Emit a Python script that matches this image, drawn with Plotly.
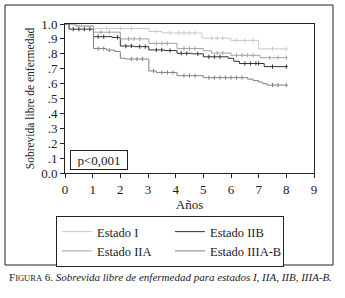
import numpy as np
import plotly.graph_objects as go

# ---- data ----
series_names = ["Estado I", "Estado IIB", "Estado IIA", "Estado IIIA-B"]

t_I = [0, 0.3, 1.03, 3.03, 3.5, 4.95, 6.0, 7.0, 8.05]
s_I = [1.0, 0.99, 0.97, 0.95, 0.94, 0.905, 0.89, 0.833, 0.833]
c_I = [0.6, 1.5, 2.0, 2.4, 3.3, 3.8, 4.1, 4.3, 4.5, 4.7, 5.3, 5.5, 5.7, 6.2, 6.5, 6.8, 7.5, 8.0]

t_IIA = [0, 0.4, 1.03, 2.0, 3.03, 4.05, 5.0, 5.3, 6.0, 7.05, 8.05]
s_IIA = [1.0, 0.985, 0.945, 0.90, 0.87, 0.835, 0.82, 0.805, 0.79, 0.774, 0.774]
c_IIA = [1.3, 1.6, 2.3, 2.5, 2.7, 3.3, 3.5, 3.7, 4.3, 4.5, 4.7, 5.5, 5.7, 6.2, 6.4, 6.6, 6.8, 7.4, 7.7, 8.0]

t_IIB = [0, 0.15, 1.03, 1.7, 2.0, 2.5, 3.03, 3.6, 4.05, 4.6, 5.0, 5.9, 6.1, 6.3, 7.2, 8.05]
s_IIB = [1.0, 0.965, 0.915, 0.91, 0.852, 0.848, 0.826, 0.822, 0.803, 0.80, 0.78, 0.77, 0.75, 0.735, 0.714, 0.714]
c_IIB = [0.3, 0.5, 0.7, 0.9, 1.2, 1.4, 1.9, 2.2, 2.4, 2.7, 2.9, 3.3, 3.5, 3.8, 4.2, 4.4, 4.8,
         5.2, 5.4, 5.6, 6.5, 6.7, 6.9, 7.0, 7.5, 8.0]

t_IIIAB = [0, 0.15, 1.03, 1.5, 1.8, 2.0, 2.2, 3.03, 3.3, 4.05, 5.0, 6.6, 6.8, 7.0, 7.15, 7.3, 8.05]
s_IIIAB = [1.0, 0.965, 0.835, 0.825, 0.815, 0.77, 0.765, 0.685, 0.675, 0.653, 0.64, 0.63, 0.62,
           0.61, 0.60, 0.59, 0.59]
c_IIIAB = [1.2, 1.4, 1.6, 2.4, 2.6, 2.8, 3.2, 3.5, 3.7, 3.9, 4.3, 4.5, 4.7, 5.2, 5.4, 5.6, 5.8,
           6.0, 6.2, 6.4, 7.5, 7.7, 8.0]

x_ticks = list(range(0, 10))
y_tick_vals = [0.0, 0.1, 0.2, 0.3, 0.4, 0.5, 0.6, 0.7, 0.8, 0.9, 1.0]
y_tick_text = ["0.0", ".1", ".2", ".3", ".4", ".5", ".6", ".7", ".8", ".9", "1.0"]

colors = {"Estado I": "#c8c8c8", "Estado IIA": "#a0a0a0", "Estado IIB": "#333333", "Estado IIIA-B": "#808080"}
data = {
    "Estado I": (t_I, s_I, c_I),
    "Estado IIA": (t_IIA, s_IIA, c_IIA),
    "Estado IIB": (t_IIB, s_IIB, c_IIB),
    "Estado IIIA-B": (t_IIIAB, s_IIIAB, c_IIIAB),
}

SERIF = "Liberation Serif"

fig = go.Figure()
for name in series_names:
    t, s, c = data[name]
    col = colors[name]
    fig.add_trace(go.Scatter(x=t, y=s, mode="lines", name=name, line=dict(color=col, width=1, shape="hv")))
for name in series_names:
    t, s, c = data[name]
    idx = np.searchsorted(np.array(t), np.array(c), side="right") - 1
    cy = np.array(s)[idx]
    fig.add_trace(go.Scatter(x=c, y=cy, mode="markers", showlegend=False,
                             marker=dict(symbol="line-ns", size=3, line=dict(color=colors[name], width=1))))

L, T, W, H = 65, 24, 249, 149


def px(xp):
    return (xp - L) / W


def py(yp):
    return (T + H - yp) / H


fig.update_layout(
    width=345, height=298,
    margin=dict(l=L, r=345 - L - W, t=T, b=298 - T - H),
    paper_bgcolor="white", plot_bgcolor="white",
    font=dict(family=SERIF, size=13, color="#222"),
    showlegend=True,
    legend=dict(orientation="h", x=px(56), y=py(216), xanchor="left", yanchor="top",
                bordercolor="#222", borderwidth=1, entrywidth=68, entrywidthmode="pixels",
                tracegroupgap=0, font=dict(family=SERIF, size=12.5, color="#222"), bgcolor="white"),
    xaxis=dict(range=[0, 9], tickvals=x_ticks, ticks="outside", ticklen=4, tickcolor="#222",
               showline=True, linecolor="#222", linewidth=1, mirror=True, showgrid=False, zeroline=False,
               title=dict(text="Años", font=dict(family=SERIF, size=13), standoff=0),
               tickfont=dict(family=SERIF, size=13)),
    yaxis=dict(range=[0, 1.0], tickvals=y_tick_vals, ticktext=y_tick_text, ticks="outside", ticklen=4,
               tickcolor="#222", showline=True, linecolor="#222", linewidth=1, mirror=True,
               showgrid=False, zeroline=False,
               title=dict(text="Sobrevida libre de enfermedad", font=dict(family=SERIF, size=11.5), standoff=4),
               tickfont=dict(family=SERIF, size=13)),
)

# p-value box
fig.add_annotation(xref="paper", yref="paper", x=px(99), y=py(160), xanchor="center", yanchor="middle",
                   text="p<0,001", showarrow=False,
                   font=dict(family=SERIF, size=13, color="#222"), bordercolor="#222", borderwidth=1,
                   borderpad=2, width=52, height=14, bgcolor="white")

# outer frame
fig.add_shape(type="rect", xref="paper", yref="paper", x0=px(5), x1=px(333), y0=py(265), y1=py(5),
              line=dict(color="#222", width=1), layer="below")

# caption
fig.add_annotation(xref="paper", yref="paper", x=px(170), y=py(277), xanchor="center", yanchor="middle",
                   showarrow=False,
                   text="F<span style='font-size:8.5px'>IGURA</span> 6. <i>Sobrevida libre de enfermedad para estados I, IIA, IIB, IIIA-B.</i>",
                   font=dict(family=SERIF, size=11, color="#222"))

fig.write_html("out.html")
